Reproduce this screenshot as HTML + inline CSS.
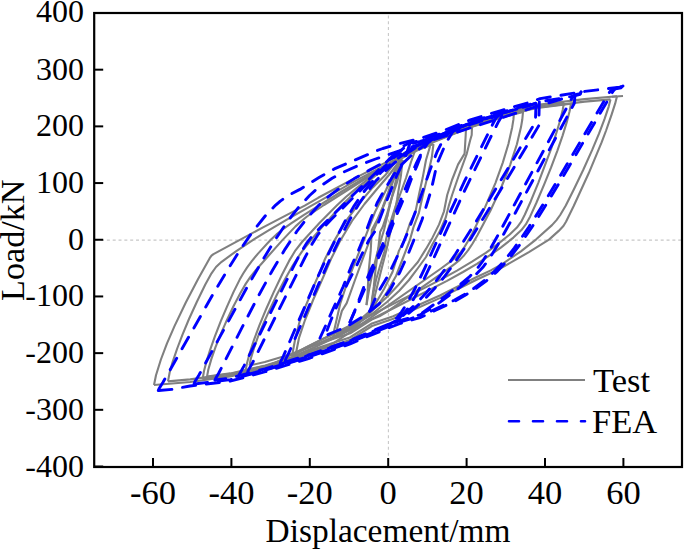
<!DOCTYPE html>
<html><head><meta charset="utf-8"><style>
html,body{margin:0;padding:0;background:#fff;}
svg{display:block;font-family:"Liberation Serif", serif;}
</style></head><body>
<svg width="685" height="551" viewBox="0 0 685 551" font-family="Liberation Serif">
<rect width="685" height="551" fill="#fff"/>
<line x1="95.2" y1="240.1" x2="682.0" y2="240.1" stroke="#c8c8c8" stroke-width="1.1" stroke-dasharray="3 2.83"/>
<line x1="388.4" y1="15.4" x2="388.4" y2="467.0" stroke="#c8c8c8" stroke-width="1.1" stroke-dasharray="3 2.83"/>
<g fill="none" stroke="#808080" stroke-width="2.1" stroke-linejoin="round"><path d="M617.0,96.3 615.2,103.4 611.6,114.6 606.1,130.5 601.6,142.4 588.7,173.3 573.7,206.0 566.0,221.8 563.4,226.0 558.7,230.9 549.0,239.6 528.9,252.1 500.1,268.7 476.0,280.0 439.8,298.1 393.4,318.8 372.0,326.0 349.8,340.1 309.9,353.0 289.5,361.2 264.4,368.6 230.1,376.5 190.2,382.0 154.0,385.0"/><path d="M154.0,385.0 156.0,375.2 160.9,359.5 166.9,343.7 174.5,326.1 185.8,302.5 198.1,278.9 209.7,258.2 211.5,255.7 213.5,254.2 263.5,227.1 304.7,205.6 318.2,197.8 354.4,178.4 400.8,154.9 420.3,144.4 436.1,137.6 469.5,124.2 500.1,114.5 529.8,106.6 540.0,104.5 584.5,99.1 617.0,96.3"/><path d="M610.5,99.4 608.7,106.6 604.5,119.2 599.0,133.7 592.2,149.9 583.3,169.7 573.8,189.5 565.8,205.5 560.2,215.0 556.5,220.1 552.0,225.1 536.2,239.3 520.9,251.3 502.5,263.8 490.8,270.4 475.7,277.5 439.9,295.5 393.2,316.3 372.0,323.4 349.8,337.5 309.9,350.4 289.5,358.6 264.7,366.0 230.1,373.9 190.2,379.4 168.0,381.4"/><path d="M168.0,381.4 169.6,372.7 172.5,362.3 177.2,348.5 182.5,334.6 189.0,319.0 196.9,301.7 205.3,284.5 211.5,273.3 216.0,267.0 221.6,261.8 236.3,251.1 253.5,239.6 268.2,230.6 286.8,219.6 354.4,181.4 374.6,170.6 401.2,157.2 419.8,146.9 469.5,126.8 500.5,117.0 529.8,109.2 539.6,107.2 584.8,101.6 610.5,99.4"/><path d="M564.0,102.6 562.7,110.0 559.9,121.2 556.0,134.2 551.0,149.1 538.4,182.6 530.8,201.2 524.9,214.5 521.1,221.9 516.9,227.6 509.7,234.5 497.8,244.1 485.8,252.8 472.0,261.7 457.0,270.6 440.2,279.9 391.4,304.9 274.3,363.2 267.1,366.3 262.0,368.0 230.1,375.5 202.6,379.2"/><path d="M202.6,379.2 204.0,371.0 206.6,361.1 210.2,349.6 214.9,336.4 220.6,321.6 226.9,306.8 233.7,291.6 239.7,279.6 243.2,273.5 247.0,267.6 251.8,261.1 258.0,253.6 270.7,239.8 276.5,234.4 282.3,229.7 291.1,223.4 304.0,214.9 341.7,191.5 389.5,163.2 419.9,145.8 425.7,143.0 469.8,125.1 500.3,115.4 530.7,107.4 540.1,105.5 564.0,102.6"/><path d="M571.0,103.7 569.6,111.2 566.7,122.4 562.6,135.6 557.4,150.6 551.1,167.4 544.2,184.3 536.3,203.0 530.2,216.4 525.8,224.4 521.4,230.1 513.4,237.6 500.8,247.6 489.3,255.7 476.9,263.8 463.0,272.0 447.0,280.9 393.0,308.5 330.3,339.8 313.5,347.8 290.2,357.8 265.4,365.4 230.3,373.4 207.0,376.6"/><path d="M207.0,376.6 208.4,369.2 211.4,358.9 215.5,347.2 220.2,335.4 226.6,320.7 233.6,306.0 240.3,293.2 245.7,283.9 250.4,276.9 256.2,269.7 281.5,241.1 295.5,226.4 301.2,221.2 307.0,216.5 324.0,205.0 378.4,170.6 390.8,163.2 420.0,147.1 469.6,127.2 500.2,117.4 530.2,109.5 539.6,107.6 571.0,103.7"/><path d="M514.0,112.3 513.4,119.7 512.2,127.2 508.4,144.0 502.8,162.6 495.4,183.1 485.0,207.4 472.3,233.4 467.7,241.6 464.0,247.7 460.7,252.1 457.0,256.2 451.0,261.2 440.3,269.0 345.0,335.7 334.3,342.7 328.4,345.4 310.1,351.5 289.6,359.6 264.9,367.0 245.5,371.5"/><path d="M245.5,371.5 246.8,364.1 249.7,353.0 253.9,340.1 259.4,325.3 266.3,308.7 273.7,292.1 282.1,274.5 289.1,260.9 295.5,250.3 302.0,242.0 319.2,223.3 336.5,205.7 346.1,196.8 356.0,188.6 369.0,178.4 386.5,165.4 396.2,158.9 419.8,145.6 469.9,125.5 500.0,116.0 514.0,112.3"/><path d="M523.0,111.9 522.3,119.5 521.0,127.1 516.9,144.2 510.1,165.1 501.8,186.0 490.4,210.7 477.4,235.3 472.6,243.5 468.2,250.2 464.2,255.2 460.0,259.6 454.8,263.9 446.8,269.9 386.5,312.1 379.4,316.4 371.7,319.6 350.2,333.3 310.3,346.4 290.1,354.5 264.8,362.0 249.5,365.5"/><path d="M249.5,365.5 250.8,358.8 253.8,348.6 258.0,336.7 263.6,323.1 269.7,309.6 277.1,294.3 285.0,279.2 292.4,266.1 297.2,258.5 302.1,251.4 314.2,236.1 334.8,212.6 342.7,204.3 350.3,196.9 367.9,181.6 388.7,165.0 394.2,161.5 420.0,147.5 469.8,127.6 500.0,118.0 523.0,111.9"/><path d="M292.0,356.0 295.0,340.0 299.6,321.5 304.0,310.0 308.3,299.7 312.0,290.0 319.2,273.6 325.0,259.0 333.6,241.9 346.6,220.1 359.7,202.7 372.8,187.4 385.9,174.4 399.0,157.0 405.0,152.8 411.0,149.5 417.0,146.2 423.0,143.3 429.0,140.9 435.0,138.5 441.0,136.1 447.0,133.7 453.0,131.3 459.0,128.9 465.0,126.5 466.0,126.1"/><path d="M466.0,128.7 465.7,135.0 464.6,153.6 458.1,164.4 452.0,180.0 447.2,195.0 444.0,211.3 439.1,224.4 432.6,237.4 426.0,248.9 417.9,262.0 408.1,273.4 398.3,285.0 388.0,296.0 375.0,308.0 362.0,318.0 345.4,329.0 323.6,338.5 305.0,348.0 292.0,356.0"/><path d="M296.0,353.0 299.0,338.0 305.0,320.0 309.5,309.0 313.5,299.0 318.0,289.0 325.0,273.0 331.0,259.0 339.5,242.0 352.0,221.0 364.5,204.0 377.0,189.0 389.0,175.0 401.0,159.0 406.0,154.2 412.0,150.9 418.0,147.6 424.0,144.9 430.0,142.5 436.0,140.1 442.0,137.7 448.0,135.3 454.0,132.9 460.0,130.5 466.0,128.1 472.0,125.9"/><path d="M472.0,127.0 471.7,135.0 470.1,140.5 466.8,153.6 458.1,177.5 452.1,195.0 449.0,205.0 445.6,217.9 439.1,232.6 432.6,244.0 426.0,257.0 418.0,268.0 409.0,280.0 399.0,291.0 387.0,302.0 372.0,314.0 355.0,325.0 335.0,336.0 315.0,345.0 296.0,353.0"/><path d="M612.0,96.8 623.0,96.0"/><path d="M430.0,142.0 429.8,147.3 426.0,160.0 422.6,178.1 419.0,194.4 415.3,212.6 409.9,223.5 404.4,240.0 398.9,250.9 392.6,271.8 384.3,288.5 375.9,303.1 371.8,309.3 360.0,320.0 345.0,330.0 334.0,338.0"/><path d="M334.0,338.0 334.2,330.2 340.4,303.1 348.8,278.0 357.1,257.1 365.5,236.3 375.0,212.0 386.0,190.0 395.0,170.0 400.8,157.0 415.0,150.0 430.0,142.0"/><path d="M433.5,144.0 431.7,158.1 426.2,181.7 422.6,196.3 419.0,212.6 413.5,227.1 409.9,240.0 403.0,258.0 396.0,276.0 387.0,292.0 378.0,305.0 372.0,311.0 358.0,324.0 337.0,337.0"/><path d="M337.0,337.0 337.1,328.5 341.9,310.9 346.7,303.1 355.0,280.0 363.4,257.1 369.7,240.4 380.0,215.0 390.0,190.0 398.0,168.0 402.0,158.0 418.0,150.0 433.5,144.0"/><path d="M400.8,157.0 399.0,160.0 393.5,176.3 388.1,192.6 382.7,207.1 377.2,219.8 371.8,230.0 370.7,250.9 368.6,271.8 367.6,292.6 366.5,305.2"/><path d="M366.5,305.2 369.0,290.0 373.0,270.0 378.0,250.0 384.0,230.0 390.0,205.0 396.0,180.0 400.8,157.0"/><path d="M402.6,160.0 397.2,181.7 391.7,198.1 386.3,216.2 382.7,227.1 380.1,232.0 378.0,250.9 375.5,270.0 373.8,286.4 372.0,300.0 371.8,309.3"/><path d="M371.8,309.3 375.0,295.0 380.0,275.0 386.4,250.0 392.0,225.0 397.0,200.0 401.0,175.0 402.6,160.0"/><path d="M416.0,148.0 411.0,162.0 406.0,178.0 401.0,192.0 395.0,208.0 388.5,228.0 385.5,242.0 384.3,252.0 380.0,266.0 376.0,280.0 373.0,295.0 371.0,308.0"/></g>
<g fill="none" stroke="#0000ff" stroke-width="2.9" stroke-dasharray="13.2 10.8" stroke-linecap="round" stroke-linejoin="round"><path d="M623.0,86.0 622.1,86.6 616.5,88.0 614.6,89.4 612.8,91.7 569.0,166.5 549.4,199.3 532.7,226.0 519.6,245.0 508.5,259.3 497.3,271.3 486.1,281.1 473.1,290.5 464.7,295.6 454.5,301.3 420.9,317.3 399.5,323.6 369.7,335.6 350.2,343.9 310.1,358.0 265.4,371.7 230.0,381.2 190.0,386.0 172.3,389.3 158.3,390.5"/><path d="M621.1,87.8 612.7,89.4 610.9,90.5 608.1,94.1 565.4,167.1 545.0,201.3 528.3,227.9 514.4,247.9 504.2,260.8 494.0,271.8 483.8,281.0 471.8,289.9 463.4,295.1 454.2,300.2 420.8,316.0"/><path d="M158.3,390.5 159.3,388.2 163.0,382.3 212.4,295.3 228.2,268.8 241.2,248.2 253.3,230.8 265.4,215.7 275.7,205.1 280.3,201.1 285.9,197.1 291.5,193.8 299.9,189.4 319.4,177.3 334.3,168.9 377.2,150.5 382.8,148.5 399.5,143.5 420.0,138.6 440.5,131.8 470.3,119.9 500.1,110.8 529.9,102.3 540.1,98.6 584.8,91.4 620.2,87.1 622.1,86.6 623.0,86.0"/><path d="M581.0,92.0 580.2,93.7 576.3,94.5 574.0,95.7 572.5,97.4 570.9,99.9 498.0,235.1 488.7,251.6 482.5,261.5 476.3,269.7 469.3,276.9 459.3,285.3 439.9,300.2 421.3,313.7 414.3,317.4 408.9,319.4 399.5,322.2 370.1,334.0 349.9,342.5 310.4,356.4 265.4,370.2 230.5,379.6 194.1,384.0"/><path d="M194.1,384.0 194.8,381.8 198.7,375.5 246.8,287.7 262.3,260.7 275.5,239.2 287.9,220.9 298.7,207.1 309.6,195.5 315.0,190.6 321.2,185.6 332.1,178.3 343.7,172.0 357.7,165.8 375.5,159.0 402.6,149.8 539.9,105.4 561.6,99.0 580.2,94.4 581.0,92.0"/><path d="M575.0,95.0 574.3,103.3 511.5,220.0 497.1,246.1 489.9,257.9 483.4,266.7 476.2,274.2 466.8,282.0 437.3,304.3 428.6,310.0 420.7,314.5 414.2,316.7 399.8,320.6 370.2,332.4 350.0,341.0 309.6,355.1 264.9,368.8 230.3,378.1 215.1,380.0"/><path d="M215.1,380.0 215.9,377.9 218.8,373.0 242.6,326.4 259.1,294.7 272.8,269.7 285.1,249.1 296.6,231.7 308.2,216.8 319.0,205.1 324.8,199.8 331.3,194.3 342.1,186.4 354.3,178.6 369.5,170.0 388.9,159.7 409.1,149.6 423.6,142.9 469.7,123.4 500.0,113.8 529.6,105.4 539.7,101.7 574.3,96.1 575.0,95.0"/><path d="M536.0,104.0 535.4,122.0 496.7,187.4 474.6,223.9 455.5,254.0 447.8,265.4 440.0,276.0 432.9,285.1 425.1,294.1 417.4,302.3 409.6,309.7 403.7,315.0 398.3,319.2 389.3,324.9 381.0,328.9 350.0,342.0 310.1,356.0 265.3,369.7 238.5,376.9"/><path d="M539.3,101.9 538.7,125.8 500.1,190.8 471.8,237.1 461.5,252.8 452.5,265.8 443.5,277.8 435.0,287.9 426.6,297.0 416.9,306.3 406.1,315.4 402.5,317.7 397.6,320.3 388.6,324.4"/><path d="M238.5,376.9 239.1,374.8 243.9,366.1 294.0,265.6 301.1,252.1 307.1,242.6 312.4,235.8 320.8,227.0 398.9,149.7 403.7,145.9 407.8,143.7 420.3,140.4 440.0,134.0 470.4,121.9 500.2,112.7 530.0,104.3 535.4,102.3 536.0,104.0"/><path d="M247.5,373.0 248.0,370.9 252.7,362.5 304.7,258.0 312.2,243.8 317.4,235.4 322.6,228.6 330.7,219.9 400.1,151.2 405.3,146.8 409.9,144.3 420.3,141.4 440.0,135.0 470.1,123.0 500.1,113.8 529.6,105.4 535.4,103.3 536.0,104.0"/><path d="M499.0,114.0 498.6,115.3 495.9,118.2 493.3,123.0 464.3,181.7 451.2,209.6 424.9,267.8 415.2,288.2 406.0,305.1 401.6,311.9 397.7,317.0 393.3,321.2 388.0,324.4 349.9,340.5 310.0,354.5 280.1,363.7"/><path d="M501.7,114.8 501.3,116.9 498.6,121.4 491.0,136.5 463.5,192.9 430.2,265.9 421.8,283.7 416.9,293.2 412.0,301.9 407.6,308.8 403.6,313.9 399.1,317.8 394.2,320.5"/><path d="M280.1,363.7 280.6,361.8 283.6,355.6 315.2,282.7 326.6,257.7 336.3,237.9 345.5,220.4 354.3,205.6 362.6,193.4 371.4,182.5 381.0,172.4 392.0,162.9 405.6,152.8 417.9,145.2 429.3,139.7 440.2,135.6 470.1,123.5 498.6,114.7 499.0,114.0"/><path d="M285.4,360.5 285.9,358.7 288.9,352.7 319.7,281.6 330.8,257.1 340.7,236.8 350.1,218.9 358.6,204.4 367.2,191.8 375.7,181.1 384.7,171.6 395.0,162.4 407.4,153.0 418.5,146.0 429.7,140.6 469.9,124.6 498.6,115.7 499.0,114.0"/><path d="M320.0,338.0 323.6,330.2 332.3,310.6 343.2,286.6 351.9,264.9 357.5,252.8 364.0,237.0 370.6,219.0 377.1,203.0 385.9,187.4 398.0,168.0 415.0,152.0 435.0,138.0 455.0,128.0"/><path d="M350.0,322.0 357.1,305.2 365.5,282.2 371.8,267.6 378.0,255.0 384.3,240.4 392.0,222.0 400.0,202.0 408.0,182.0 416.0,164.0 424.0,148.0 432.0,136.0"/><path d="M369.7,311.0 378.0,292.6 387.8,275.9 396.0,259.2 402.5,244.6 408.7,230.0 416.0,210.0 423.0,190.0 430.0,170.0 437.0,152.0 445.0,136.0 455.0,128.0"/><path d="M455.0,128.0 446.0,143.0 437.1,163.6 431.0,190.8 426.5,205.3 422.0,219.8 417.0,232.5 409.0,252.0 400.0,272.0 390.0,290.0 379.0,304.0 364.0,316.0 346.0,327.0 320.0,338.0"/><path d="M432.0,136.0 422.6,150.9 417.1,165.4 411.7,178.1 406.3,192.6 400.8,205.3 395.4,218.0 389.0,234.4 382.0,250.0 374.0,268.0 366.0,286.0 358.0,304.0 350.0,322.0"/><path d="M410.0,143.0 404.4,160.0 397.2,174.5 393.5,183.5 386.3,201.7 380.8,216.2 375.4,230.7 369.0,240.0 362.0,254.0 355.5,268.0 349.2,280.0 343.0,293.0 337.0,306.0 331.0,320.0 326.0,333.0"/></g>
<rect x="94.2" y="13.0" width="587.8" height="454.0" fill="none" stroke="#000" stroke-width="2.2"/>
<line x1="94.2" y1="466.51" x2="103.2" y2="466.51" stroke="#000" stroke-width="2"/>
<text x="84" y="476.51" text-anchor="end" font-size="32">-400</text>
<line x1="94.2" y1="409.82" x2="103.2" y2="409.82" stroke="#000" stroke-width="2"/>
<text x="84" y="419.82" text-anchor="end" font-size="32">-300</text>
<line x1="94.2" y1="353.13" x2="103.2" y2="353.13" stroke="#000" stroke-width="2"/>
<text x="84" y="363.13" text-anchor="end" font-size="32">-200</text>
<line x1="94.2" y1="296.44" x2="103.2" y2="296.44" stroke="#000" stroke-width="2"/>
<text x="84" y="306.44" text-anchor="end" font-size="32">-100</text>
<line x1="94.2" y1="239.75" x2="103.2" y2="239.75" stroke="#000" stroke-width="2"/>
<text x="84" y="249.75" text-anchor="end" font-size="32">0</text>
<line x1="94.2" y1="183.06" x2="103.2" y2="183.06" stroke="#000" stroke-width="2"/>
<text x="84" y="193.06" text-anchor="end" font-size="32">100</text>
<line x1="94.2" y1="126.37" x2="103.2" y2="126.37" stroke="#000" stroke-width="2"/>
<text x="84" y="136.37" text-anchor="end" font-size="32">200</text>
<line x1="94.2" y1="69.68" x2="103.2" y2="69.68" stroke="#000" stroke-width="2"/>
<text x="84" y="79.68" text-anchor="end" font-size="32">300</text>
<line x1="94.2" y1="12.99" x2="103.2" y2="12.99" stroke="#000" stroke-width="2"/>
<text x="84" y="21.49" text-anchor="end" font-size="32">400</text>
<line x1="153.00" y1="467.0" x2="153.00" y2="458.0" stroke="#000" stroke-width="2"/>
<text x="153.00" y="503.5" text-anchor="middle" font-size="34.5">-60</text>
<line x1="231.40" y1="467.0" x2="231.40" y2="458.0" stroke="#000" stroke-width="2"/>
<text x="231.40" y="503.5" text-anchor="middle" font-size="34.5">-40</text>
<line x1="309.80" y1="467.0" x2="309.80" y2="458.0" stroke="#000" stroke-width="2"/>
<text x="309.80" y="503.5" text-anchor="middle" font-size="34.5">-20</text>
<line x1="388.20" y1="467.0" x2="388.20" y2="458.0" stroke="#000" stroke-width="2"/>
<text x="388.20" y="503.5" text-anchor="middle" font-size="34.5">0</text>
<line x1="466.60" y1="467.0" x2="466.60" y2="458.0" stroke="#000" stroke-width="2"/>
<text x="466.60" y="503.5" text-anchor="middle" font-size="34.5">20</text>
<line x1="545.00" y1="467.0" x2="545.00" y2="458.0" stroke="#000" stroke-width="2"/>
<text x="545.00" y="503.5" text-anchor="middle" font-size="34.5">40</text>
<line x1="623.40" y1="467.0" x2="623.40" y2="458.0" stroke="#000" stroke-width="2"/>
<text x="623.40" y="503.5" text-anchor="middle" font-size="34.5">60</text>
<text x="388" y="542" text-anchor="middle" font-size="33.4">Displacement/mm</text>
<text transform="translate(24.3,240.2) rotate(-90)" text-anchor="middle" font-size="34.2">Load/kN</text>
<line x1="508" y1="379.9" x2="585" y2="379.9" stroke="#808080" stroke-width="2"/>
<text x="593" y="392.2" font-size="34.5">Test</text>
<line x1="509" y1="421.2" x2="585" y2="421.2" stroke="#0000ff" stroke-width="2.6" stroke-dasharray="10 14" stroke-linecap="round"/>
<text x="592" y="433.2" font-size="34.5">FEA</text>
</svg></body></html>
